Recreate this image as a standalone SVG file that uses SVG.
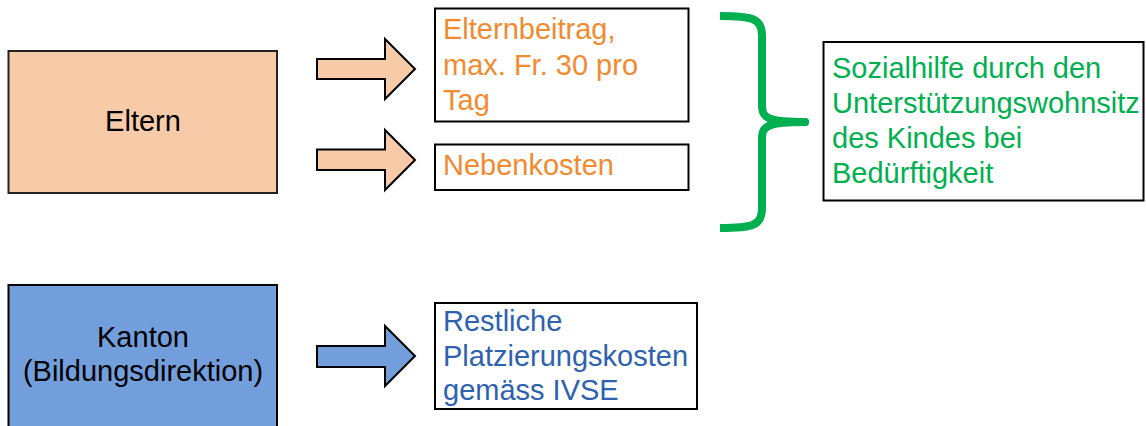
<svg xmlns="http://www.w3.org/2000/svg" width="1146" height="426" viewBox="0 0 1146 426">
<style>
text{font-family:"Liberation Sans",Arial,sans-serif;font-size:29px}
.box{fill:#fff;stroke:#000;stroke-width:2}
.orange{fill:#F28A30}
.blue{fill:#2E62AE}
.green{fill:#00B050}
.arrowO{fill:#F8CBA8;stroke:#000;stroke-width:2;stroke-linejoin:miter}
.arrowB{fill:#729FDC;stroke:#000;stroke-width:2;stroke-linejoin:miter}
</style>
<rect width="1146" height="426" fill="#fff"/>
<g id="eltern">
<rect x="8.5" y="51" width="268.5" height="142" fill="#F8CBA8" stroke="#222" stroke-width="2"/>
<text x="143" y="131" text-anchor="middle" fill="#000">Eltern</text>
</g>
<g id="kanton">
<rect x="8.5" y="285" width="268.5" height="150" fill="#729FDC" stroke="#000" stroke-width="2"/>
<text x="143" y="347" text-anchor="middle" fill="#000">Kanton</text>
<text x="143" y="381" text-anchor="middle" fill="#000">(Bildungsdirektion)</text>
</g>
<g id="elternbeitrag">
<rect class="box" x="435" y="8.5" width="253.5" height="113"/>
<text class="orange" x="443" y="39">Elternbeitrag,</text>
<text class="orange" x="443" y="75">max. Fr. 30 pro</text>
<text class="orange" x="443" y="110">Tag</text>
</g>
<g id="nebenkosten">
<rect class="box" x="435" y="144.5" width="253.5" height="45.5"/>
<text class="orange" x="443" y="175">Nebenkosten</text>
</g>
<g id="restliche">
<rect class="box" x="435" y="303" width="262" height="106"/>
<text class="blue" x="443" y="331">Restliche</text>
<text class="blue" x="443" y="366">Platzierungskosten</text>
<text class="blue" x="443" y="400">gemäss IVSE</text>
</g>
<g id="sozialhilfe">
<rect class="box" x="823.5" y="42" width="320" height="158.5"/>
<text class="green" x="832" y="78">Sozialhilfe durch den</text>
<text class="green" x="832" y="113">Unterstützungswohnsitz</text>
<text class="green" x="832" y="148">des Kindes bei</text>
<text class="green" x="832" y="183">Bedürftigkeit</text>
</g>
<g id="connectors">
<polygon class="arrowO" points="317,59 385,59 385,39 415,69 385,99 385,79 317,79"/>
<polygon class="arrowO" points="317,149.5 385,149.5 385,130 415,160 385,190 385,170 317,170"/>
<polygon class="arrowB" points="317,346 385,346 385,326 415,356 385,386 385,367 317,367"/>
<path d="M720,16 C752,16 762,18 762,36 L762,106 C762,118 768,122 805,122 C768,122 762,126 762,138 L762,208 C762,226 752,228 720,228" fill="none" stroke="#00B050" stroke-width="8" stroke-linejoin="round" stroke-linecap="butt"/>
<circle cx="805" cy="122" r="4" fill="#00B050"/>
</g>
</svg>
